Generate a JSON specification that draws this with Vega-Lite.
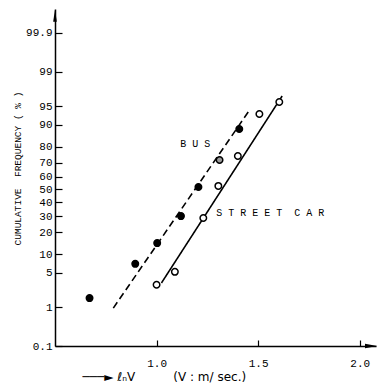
{
  "$schema": "https://vega.github.io/schema/vega-lite/v6.json",
  "width": 321,
  "height": 337,
  "autosize": {"type": "none"},
  "padding": {"left": 55, "top": 9, "right": 2, "bottom": 44},
  "background": "white",
  "config": {"view": {"stroke": null}},
  "datasets": {
    "points": [
      {"series": "BUS", "style": "filled", "lnV": 0.67, "freq": 1.6},
      {"series": "BUS", "style": "filled", "lnV": 0.895, "freq": 7.1},
      {"series": "BUS", "style": "filled", "lnV": 1.003, "freq": 14.5},
      {"series": "BUS", "style": "filled", "lnV": 1.12, "freq": 30.0},
      {"series": "BUS", "style": "filled", "lnV": 1.206, "freq": 52.0},
      {"series": "BUS", "style": "dotted", "lnV": 1.31, "freq": 72.0},
      {"series": "BUS", "style": "filled", "lnV": 1.407, "freq": 88.4},
      {"series": "STREET CAR", "style": "open", "lnV": 1.0, "freq": 3.0},
      {"series": "STREET CAR", "style": "open", "lnV": 1.09, "freq": 5.2},
      {"series": "STREET CAR", "style": "open", "lnV": 1.23, "freq": 28.7},
      {"series": "STREET CAR", "style": "open", "lnV": 1.304, "freq": 52.8},
      {"series": "STREET CAR", "style": "open", "lnV": 1.4, "freq": 74.6},
      {"series": "STREET CAR", "style": "open", "lnV": 1.506, "freq": 93.2},
      {"series": "STREET CAR", "style": "open", "lnV": 1.604, "freq": 95.8}
    ],
    "fits": [
      {"series": "BUS", "lnV": 0.787, "freq": 0.96},
      {"series": "BUS", "lnV": 1.451, "freq": 93.7},
      {"series": "STREET CAR", "lnV": 1.024, "freq": 3.25},
      {"series": "STREET CAR", "lnV": 1.618, "freq": 96.75}
    ],
    "labels": [
      {"label": "B U S", "lnV": 1.19, "freq": 81.5},
      {"label": "S T R E E T\u00a0 C A R", "lnV": 1.56, "freq": 32.1}
    ],
    "arrows": [
      {"dir": "up", "lnV": 0.5, "freq": 99.97},
      {"dir": "right", "lnV": 2.056, "freq": 0.1}
    ]
  },
  "encoding": {
    "x": {
      "field": "lnV",
      "type": "quantitative",
      "scale": {"domain": [0.5, 2.08], "nice": false, "zero": false},
      "axis": {
        "values": [1.0, 1.5, 2.0],
        "format": ".1f",
        "grid": false,
        "tickSize": -6,
        "tickColor": "black",
        "tickWidth": 1.2,
        "domainColor": "black",
        "domainWidth": 1.5,
        "labelFont": "Liberation Mono",
        "labelFontSize": 11,
        "labelColor": "black",
        "labelPadding": 17,
        "labelFlush": false,
        "labelOverlap": false,
        "title": "───► ℓₙV\u00a0\u00a0\u00a0\u00a0\u00a0\u00a0\u00a0\u00a0\u00a0\u00a0(V : m/ sec.)",
        "titleFont": "DejaVu Sans",
        "titleFontSize": 12,
        "titleFontWeight": "normal",
        "titleColor": "black",
        "titleAlign": "left",
        "titleBaseline": "alphabetic",
        "titleX": 27,
        "titleY": 34
      }
    },
    "y": {
      "field": "z",
      "type": "quantitative",
      "scale": {"domain": [-3.0902, 3.564], "nice": false, "zero": false},
      "axis": {
        "values": [-3.0902, -2.3263, -1.6449, -1.2816, -0.8416, -0.5244, -0.2533, 0, 0.2533, 0.5244, 0.8416, 1.2816, 1.6449, 2.3263, 3.0902],
        "labelExpr": "round(cumulativeNormal(datum.value)*1000)/10",
        "grid": false,
        "tickSize": -7,
        "tickColor": "black",
        "tickWidth": 1.2,
        "domainColor": "black",
        "domainWidth": 1.5,
        "labelFont": "Liberation Mono",
        "labelFontSize": 11,
        "labelColor": "black",
        "labelPadding": 10,
        "labelOverlap": false,
        "labelBound": false,
        "labelFlush": false,
        "title": "CUMULATIVE\u00a0\u00a0FREQUENCY ( % )",
        "titleFont": "Liberation Mono",
        "titleFontSize": 9.5,
        "titleFontWeight": "normal",
        "titleColor": "black",
        "titlePadding": 3,
        "titleY": 159
      }
    }
  },
  "layer": [
    {
      "data": {"name": "fits"},
      "transform": [{"calculate": "quantileNormal(datum.freq/100)", "as": "z"}],
      "mark": {"type": "line", "color": "black", "strokeWidth": 1.6},
      "encoding": {
        "strokeDash": {
          "field": "series",
          "type": "nominal",
          "scale": {"domain": ["BUS", "STREET CAR"], "range": [[7, 4], [1, 0]]},
          "legend": null
        }
      }
    },
    {
      "data": {"name": "points"},
      "transform": [{"calculate": "quantileNormal(datum.freq/100)", "as": "z"}],
      "mark": {"type": "circle", "size": 42, "stroke": "black", "strokeWidth": 1.5, "opacity": 1},
      "encoding": {
        "fill": {
          "field": "style",
          "type": "nominal",
          "scale": {"domain": ["filled", "open", "dotted"], "range": ["black", "white", "#9a9a9a"]},
          "legend": null
        }
      }
    },
    {
      "data": {"name": "labels"},
      "transform": [{"calculate": "quantileNormal(datum.freq/100)", "as": "z"}],
      "mark": {"type": "text", "font": "Liberation Mono", "fontSize": 10, "color": "black", "align": "center", "baseline": "middle"},
      "encoding": {"text": {"field": "label", "type": "nominal"}}
    },
    {
      "data": {"name": "arrows"},
      "transform": [{"calculate": "quantileNormal(datum.freq/100)", "as": "z"}],
      "mark": {"type": "point", "filled": true, "color": "black", "opacity": 1, "size": 150},
      "encoding": {
        "shape": {
          "field": "dir",
          "type": "nominal",
          "scale": {"domain": ["up", "right"], "range": ["M0,-1L0.3,1L-0.3,1Z", "M1,0L-1,-0.35L-1,0.35Z"]},
          "legend": null
        }
      }
    }
  ]
}
